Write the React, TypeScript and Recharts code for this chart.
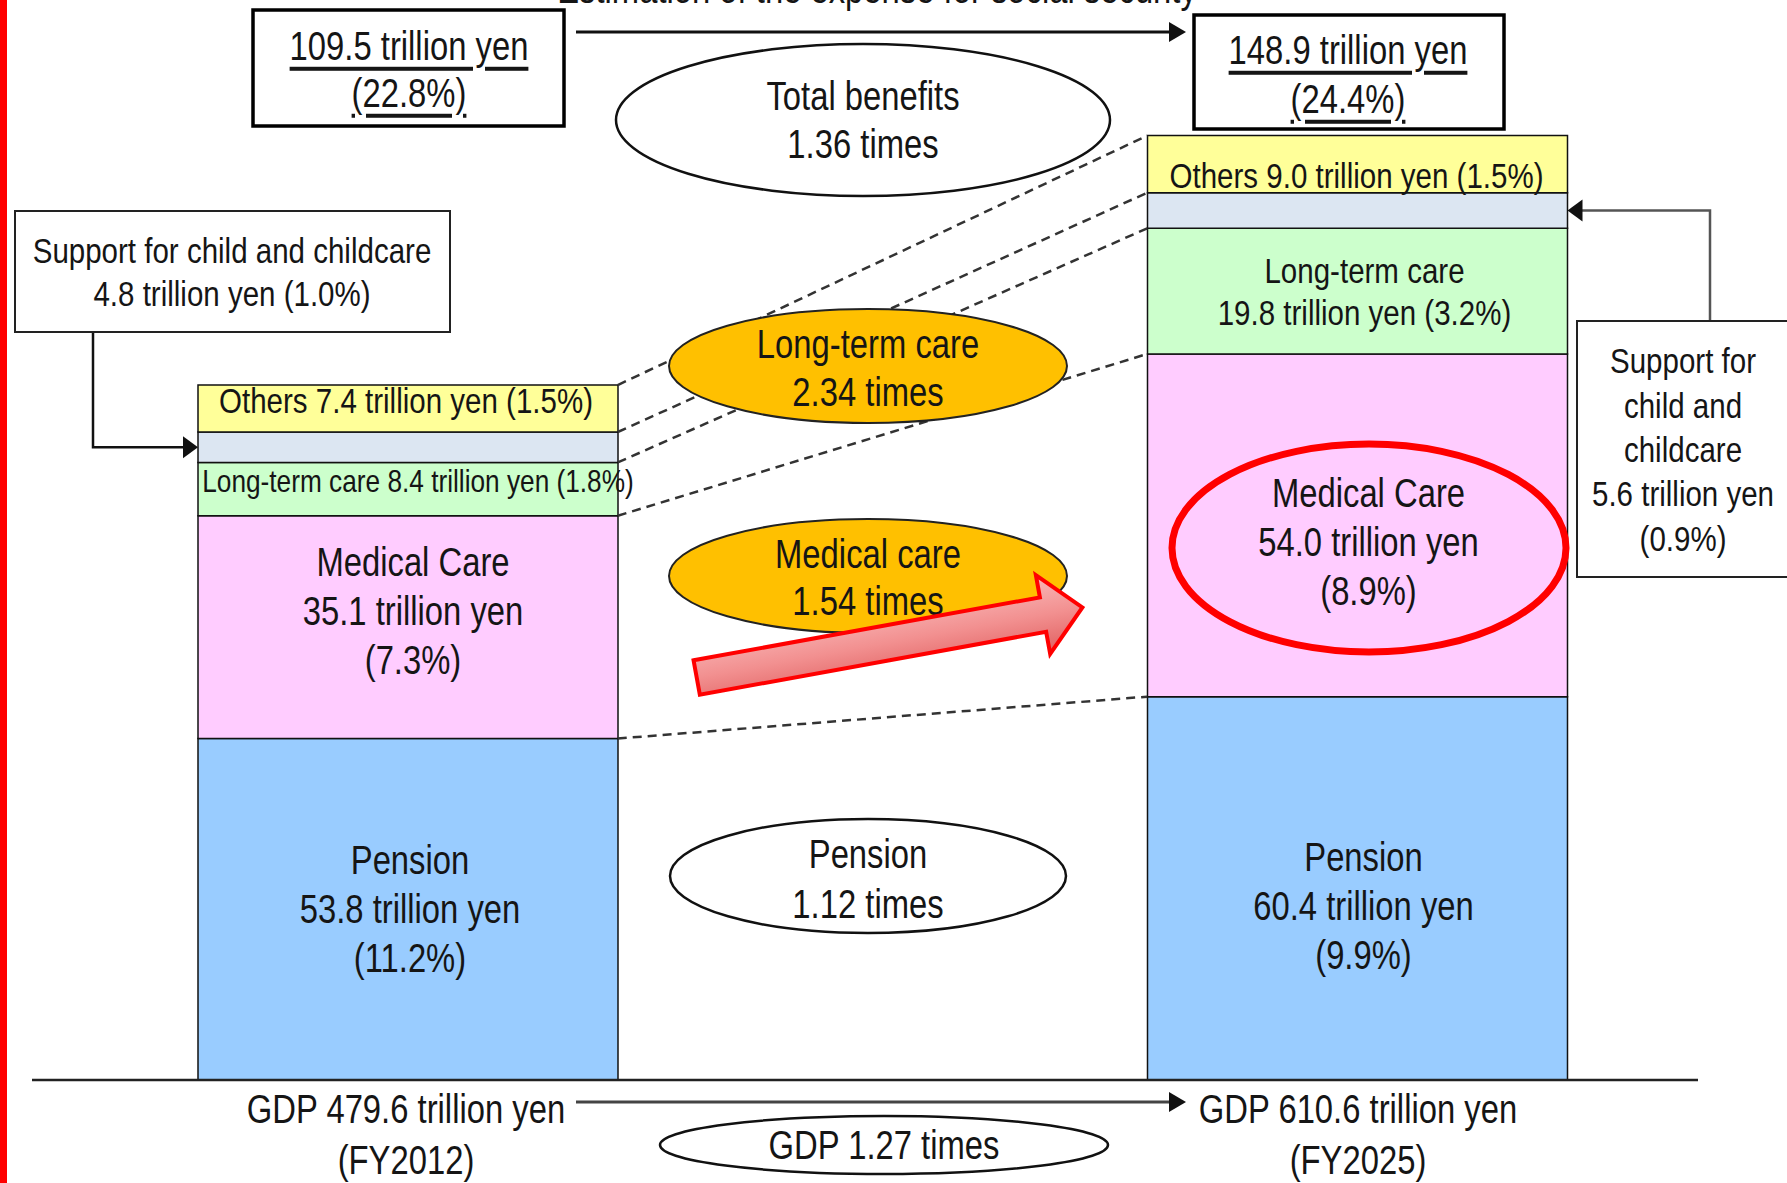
import React from 'react';
import { BarChart, Bar, XAxis, YAxis, LabelList, ReferenceLine } from 'recharts';

// ---------- data ----------
const categories = ['FY2012', 'FY2025'];
const pension = [53.8, 60.4];
const medical = [35.1, 54.0];
const longTermCare = [8.4, 19.8];
const childcare = [4.8, 5.6];
const others = [7.4, 9.0];
const pensionPct = ['11.2%', '9.9%'];
const medicalPct = ['7.3%', '8.9%'];
const longTermCarePct = ['1.8%', '3.2%'];
const childcarePct = ['1.0%', '0.9%'];
const othersPct = ['1.5%', '1.5%'];
const totalBenefits = [109.5, 148.9];
const totalPct = ['22.8%', '24.4%'];
const gdp = [479.6, 610.6];
const ratioTotal = '1.36';
const ratioLongTermCare = '2.34';
const ratioMedical = '1.54';
const ratioPension = '1.12';
const ratioGdp = '1.27';
const yDomain = [0, 150];

const data = categories.map((c, i) => ({
  category: c,
  pension: pension[i],
  medical: medical[i],
  longTermCare: longTermCare[i],
  childcare: childcare[i],
  others: others[i],
}));

// ---------- layout / style ----------
const W = 1787;
const H = 1183;
const BAR_SIZE = 420;
const FONT = "'Liberation Sans', Arial, sans-serif";
const NARROW = 0.82; // Arial-Narrow look: horizontally condensed Liberation Sans
const TEXT = '#151515';

const colors: Record<string, string> = {
  pension: '#99CCFF',
  medical: '#FFCCFF',
  longTermCare: '#CCFFCC',
  childcare: '#DCE6F2',
  others: '#FFFF99',
};

const labelStyle: Record<string, { fs: number; lh: number; dx: number; dy: number }[]> = {
  pension: [
    { fs: 40, lh: 49, dx: 2, dy: 0 },
    { fs: 40, lh: 49, dx: 6, dy: 17 },
  ],
  medical: [
    { fs: 40, lh: 49, dx: 5, dy: -16 },
    { fs: 40, lh: 49, dx: 11, dy: 16 },
  ],
  longTermCare: [
    { fs: 32, lh: 40, dx: 10, dy: -8 },
    { fs: 36, lh: 42, dx: 7, dy: 0 },
  ],
  others: [
    { fs: 36, lh: 40, dx: -2, dy: -9 },
    { fs: 36, lh: 40, dx: -1, dy: 11 },
  ],
};

const fmt = (v: number) => v.toFixed(1);

function segmentLines(key: string, i: number): string[] {
  switch (key) {
    case 'pension':
      return ['Pension', `${fmt(pension[i])} trillion yen`, `(${pensionPct[i]})`];
    case 'medical':
      return ['Medical Care', `${fmt(medical[i])} trillion yen`, `(${medicalPct[i]})`];
    case 'longTermCare':
      return i === 0
        ? [`Long-term care ${fmt(longTermCare[i])} trillion yen (${longTermCarePct[i]})`]
        : ['Long-term care', `${fmt(longTermCare[i])} trillion yen (${longTermCarePct[i]})`];
    case 'others':
      return [`Others ${fmt(others[i])} trillion yen (${othersPct[i]})`];
    default:
      return [];
  }
}

function NarrowLines({ x, ys, lines, fs = 40, underline = false, color = TEXT }: any) {
  return (
    <g transform={`translate(${x} 0) scale(${NARROW} 1)`}>
      <text
        textAnchor="middle"
        dominantBaseline="central"
        fontFamily={FONT}
        fontSize={fs}
        fill={color}
        textDecoration={underline ? 'underline' : undefined}
      >
        {lines.map((l: string, k: number) => (
          <tspan key={k} x={0} y={ys[k]}>
            {l}
          </tspan>
        ))}
      </text>
    </g>
  );
}

function readBox(props: any) {
  const vb = props.viewBox && props.viewBox.width != null ? props.viewBox : props;
  const x = Number(vb.x);
  const y = Number(vb.y);
  const w = Number(vb.width);
  const h = Number(vb.height);
  const i = props.index != null ? Number(props.index) : x + w / 2 < W / 2 ? 0 : 1;
  return { x, y, w, h, i };
}

const renderSegmentLabel = (key: string) => (props: any) => {
  const { x, y, w, h, i } = readBox(props);
  const lines = segmentLines(key, i);
  const st = labelStyle[key][i];
  const cx = x + w / 2 + st.dx;
  const cy = y + h / 2 + st.dy;
  const ys = lines.map((_, k) => cy + (k - (lines.length - 1) / 2) * st.lh);
  return <NarrowLines x={cx} ys={ys} lines={lines} fs={st.fs} />;
};

// elbow arrows from the childcare call-out boxes to the childcare segment
const renderChildArrow = (props: any) => {
  const { x, y, w, h, i } = readBox(props);
  const cy = y + h / 2;
  if (i === 0) {
    const bx = 93;
    const by = 332;
    return (
      <g>
        <polyline points={`${bx},${by} ${bx},${cy} ${x - 12},${cy}`} fill="none" stroke="#111" strokeWidth={2.5} />
        <polygon points={`${x},${cy} ${x - 15},${cy - 11} ${x - 15},${cy + 11}`} fill="#111" />
      </g>
    );
  }
  const bx = 1710;
  const by = 321;
  const ex = x + w;
  return (
    <g>
      <polyline points={`${bx},${by} ${bx},${cy} ${ex + 12},${cy}`} fill="none" stroke="#555" strokeWidth={2.5} />
      <polygon points={`${ex},${cy} ${ex + 15},${cy - 11} ${ex + 15},${cy + 11}`} fill="#111" />
    </g>
  );
};

const DashedConnector = (props: any) => (
  <line
    x1={props.x1 + BAR_SIZE / 2}
    y1={props.y1}
    x2={props.x2 - BAR_SIZE / 2}
    y2={props.y2}
    stroke="#333"
    strokeWidth={2.5}
    strokeDasharray="9 6"
  />
);

const cumulative = (i: number) => {
  let s = 0;
  return [pension[i], medical[i], longTermCare[i], childcare[i], others[i]].map((v) => (s += v));
};
const leftCum = cumulative(0);
const rightCum = cumulative(1);

function RightArrow({ x1, x2, y, color = '#111' }: any) {
  return (
    <g>
      <line x1={x1} y1={y} x2={x2 - 14} y2={y} stroke={color} strokeWidth={3} />
      <polygon points={`${x2},${y} ${x2 - 17},${y - 10} ${x2 - 17},${y + 10}`} fill="#111" />
    </g>
  );
}

function Overlay() {
  // red block arrow geometry (local frame, pointing along +x)
  const L = 392;
  const HL = 40;
  const HW = 40;
  const SW = 17.5;
  const arrowPts = `0,${-SW} ${L - HL},${-SW} ${L - HL},${-HW} ${L},0 ${L - HL},${HW} ${L - HL},${SW} 0,${SW}`;
  return (
    <svg width={W} height={H} style={{ position: 'absolute', left: 0, top: 0, pointerEvents: 'none' }}>
      <defs>
        <linearGradient id="redArrowFill" x1="0" y1="0" x2="0" y2="1">
          <stop offset="0" stopColor="#F9B8B8" />
          <stop offset="0.5" stopColor="#F29090" />
          <stop offset="1" stopColor="#E06060" />
        </linearGradient>
      </defs>
      {/* left red border */}
      <rect x={0} y={0} width={7} height={H} fill="#FF0000" />

      {/* title (cut off at top) */}
      <g transform={`translate(877 0) scale(${NARROW} 1)`}>
        <text x={0} y={3} textAnchor="middle" fontFamily={FONT} fontSize={40} fill={TEXT}>
          Estimation of the expense for social security
        </text>
      </g>

      {/* total boxes */}
      <rect x={253} y={10} width={311} height={116} fill="#fff" stroke="#000" strokeWidth={3.5} />
      <NarrowLines x={409} ys={[46, 93]} underline lines={[`${fmt(totalBenefits[0])} trillion yen`, `(${totalPct[0]})`]} />
      <RightArrow x1={576} x2={1186} y={32} />
      <rect x={1194} y={15} width={310} height={114} fill="#fff" stroke="#000" strokeWidth={3.5} />
      <NarrowLines x={1348} ys={[50, 99]} underline lines={[`${fmt(totalBenefits[1])} trillion yen`, `(${totalPct[1]})`]} />

      {/* total benefits ellipse */}
      <ellipse cx={863} cy={120} rx={247} ry={76} fill="#fff" stroke="#111" strokeWidth={2.5} />
      <NarrowLines x={863} ys={[96, 144]} lines={['Total benefits', `${ratioTotal} times`]} />

      {/* childcare call-out boxes */}
      <rect x={15} y={211} width={435} height={121} fill="#fff" stroke="#222" strokeWidth={2} />
      <NarrowLines x={232} ys={[250, 293]} fs={36}
        lines={['Support for child and childcare', `${fmt(childcare[0])} trillion yen (${childcarePct[0]})`]} />
      <rect x={1577} y={321} width={230} height={256} fill="#fff" stroke="#222" strokeWidth={2} />
      <NarrowLines x={1683} ys={[360, 405, 449, 493, 538]} fs={36}
        lines={['Support for', 'child and', 'childcare', `${fmt(childcare[1])} trillion yen`, `(${childcarePct[1]})`]} />

      {/* ratio ellipses */}
      <ellipse cx={868} cy={366} rx={199} ry={57} fill="#FFC000" stroke="#222" strokeWidth={2} />
      <NarrowLines x={868} ys={[344, 392]} lines={['Long-term care', `${ratioLongTermCare} times`]} />
      <ellipse cx={868} cy={576} rx={199} ry={57} fill="#FFC000" stroke="#222" strokeWidth={2} />
      <NarrowLines x={868} ys={[554, 601]} lines={['Medical care', `${ratioMedical} times`]} />

      {/* red block arrow */}
      <g transform="translate(696.7,677.5) rotate(-10.3)">
        <polygon points={arrowPts} fill="url(#redArrowFill)" stroke="#FF0000" strokeWidth={4} strokeLinejoin="miter" />
      </g>

      {/* red highlight ellipse */}
      <ellipse cx={1369} cy={548} rx={197} ry={104} fill="none" stroke="#FF0000" strokeWidth={7} />

      <ellipse cx={868} cy={876} rx={198} ry={57} fill="#fff" stroke="#111" strokeWidth={2.5} />
      <NarrowLines x={868} ys={[854, 904]} lines={['Pension', `${ratioPension} times`]} />

      {/* baseline */}
      <line x1={32} y1={1080} x2={1698} y2={1080} stroke="#222" strokeWidth={2.5} />

      {/* GDP */}
      <NarrowLines x={406} ys={[1109, 1160]} lines={[`GDP ${fmt(gdp[0])} trillion yen`, `(${categories[0]})`]} />
      <NarrowLines x={1358} ys={[1109, 1160]} lines={[`GDP ${fmt(gdp[1])} trillion yen`, `(${categories[1]})`]} />
      <RightArrow x1={576} x2={1186} y={1102} color="#444" />
      <ellipse cx={884} cy={1145} rx={224} ry={29} fill="#fff" stroke="#111" strokeWidth={2.5} />
      <NarrowLines x={884} ys={[1145]} lines={[`GDP ${ratioGdp} times`]} />
    </svg>
  );
}

export default function App() {
  return (
    <div style={{ position: 'absolute', left: 0, top: 0, width: W, height: H, background: '#fff' }}>
      <BarChart
        width={W}
        height={H}
        data={data}
        barSize={BAR_SIZE}
        margin={{ top: 128, bottom: 103, left: -67, right: -45 }}
      >
        <XAxis dataKey="category" type="category" hide />
        <YAxis type="number" domain={yDomain} hide width={0} />
        <Bar dataKey="pension" stackId="s" fill={colors.pension} stroke="#111" strokeWidth={1.5} isAnimationActive={false}>
          <LabelList dataKey="pension" content={renderSegmentLabel('pension')} />
        </Bar>
        <Bar dataKey="medical" stackId="s" fill={colors.medical} stroke="#111" strokeWidth={1.5} isAnimationActive={false}>
          <LabelList dataKey="medical" content={renderSegmentLabel('medical')} />
        </Bar>
        <Bar dataKey="longTermCare" stackId="s" fill={colors.longTermCare} stroke="#111" strokeWidth={1.5} isAnimationActive={false}>
          <LabelList dataKey="longTermCare" content={renderSegmentLabel('longTermCare')} />
        </Bar>
        <Bar dataKey="childcare" stackId="s" fill={colors.childcare} stroke="#111" strokeWidth={1.5} isAnimationActive={false}>
          <LabelList dataKey="childcare" content={renderChildArrow} />
        </Bar>
        <Bar dataKey="others" stackId="s" fill={colors.others} stroke="#111" strokeWidth={1.5} isAnimationActive={false}>
          <LabelList dataKey="others" content={renderSegmentLabel('others')} />
        </Bar>
        {leftCum.map((v, k) => (
          <ReferenceLine
            key={k}
            segment={[
              { x: categories[0], y: v },
              { x: categories[1], y: rightCum[k] },
            ]}
            shape={DashedConnector}
            ifOverflow="visible"
          />
        ))}
      </BarChart>
      <Overlay />
    </div>
  );
}
